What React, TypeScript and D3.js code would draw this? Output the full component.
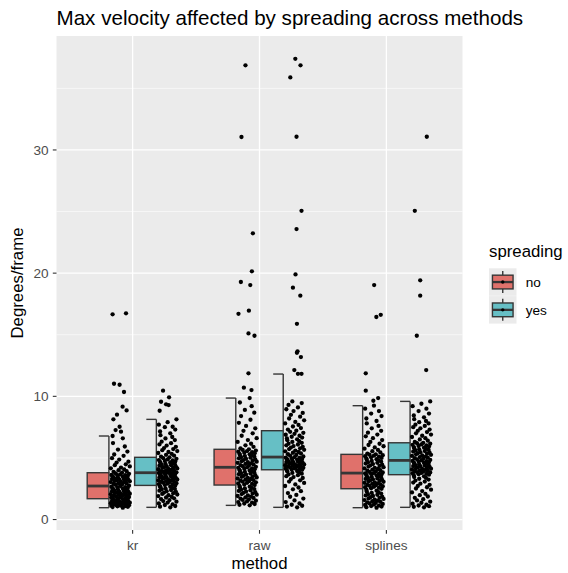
import React from "react";
import * as d3 from "d3";

const METHODS = ["kr", "raw", "splines"];
const SPREADING = ["no", "yes"];
const FILLS = ["#E0716B", "#66BFC5"];
const Y_TICKS = [0, 10, 20, 30];
const Y_MINOR = [5, 15, 25, 35];

// box statistics per group: kr-no, kr-yes, raw-no, raw-yes, splines-no, splines-yes
const LOWER = [0.96, 0.99, 1.15, 0.99, 0.96, 0.99];
const Q1 = [1.69, 2.77, 2.8, 4.04, 2.5, 3.64];
const MEDIAN = [2.72, 3.8, 4.24, 5.07, 3.77, 4.8];
const Q3 = [3.8, 5.05, 5.7, 7.21, 5.29, 6.23];
const UPPER = [6.78, 8.13, 9.86, 11.81, 9.24, 9.59];

// dense observations (read approximately)
const KR_NO = [0.96,1.01,1.03,1.07,1.09,1.12,1.13,1.16,1.19,1.21,1.24,1.26,1.28,1.31,1.33,1.34,1.37,1.4,1.41,1.43,1.46,1.47,1.5,1.53,1.55,1.56,1.58,1.61,1.63,1.64,1.67,1.69,
1.71,1.74,1.79,1.8,1.83,1.88,1.91,1.92,1.97,2.0,2.01,2.06,2.09,2.1,2.15,2.18,2.19,2.24,2.27,2.3,2.31,2.36,2.4,2.42,2.45,2.46,2.51,2.54,2.57,2.6,2.63,2.67,2.72,
2.75,2.81,2.83,2.89,2.93,2.95,3.01,3.04,3.05,3.1,3.13,3.14,3.19,3.22,3.25,3.28,3.29,3.34,3.37,3.4,3.43,3.44,3.49,3.52,3.55,3.58,3.61,3.62,3.67,3.71,3.74,3.8,
3.87,3.92,4.01,4.07,4.16,4.22,4.31,4.41,4.48,4.62,4.7,4.87,4.98,5.17,5.28,5.52,5.68,5.93,6.21,6.59,6.78];
const KR_YES = [0.99,1.04,1.1,1.18,1.23,1.3,1.38,1.45,1.5,1.58,1.66,1.72,1.79,1.85,1.9,1.97,2.03,2.08,2.14,2.19,2.25,2.3,2.34,2.39,2.44,2.48,2.53,2.57,2.62,2.66,2.71,2.77,
2.8,2.84,2.87,2.91,2.95,2.98,3.02,3.05,3.08,3.12,3.15,3.18,3.21,3.25,3.28,3.31,3.35,3.38,3.41,3.44,3.47,3.5,3.53,3.56,3.59,3.62,3.65,3.68,3.71,3.73,3.76,3.78,3.8,
3.83,3.86,3.9,3.93,3.97,4.0,4.04,4.08,4.11,4.15,4.19,4.22,4.26,4.3,4.33,4.37,4.41,4.45,4.48,4.52,4.56,4.6,4.63,4.67,4.71,4.75,4.79,4.83,4.88,4.93,4.98,5.05,
5.1,5.18,5.25,5.33,5.4,5.48,5.56,5.63,5.72,5.8,5.9,6.0,6.1,6.2,6.32,6.45,6.58,6.7,6.85,7.0,7.15,7.3,7.5,7.53,7.7,7.9,8.13];
const RAW_NO = [1.15,1.2,1.26,1.3,1.37,1.42,1.48,1.53,1.59,1.64,1.7,1.75,1.8,1.86,1.91,1.96,2.02,2.07,2.12,2.17,2.22,2.27,2.32,2.37,2.42,2.47,2.52,2.57,2.62,2.67,2.73,2.8,
2.84,2.89,2.93,2.98,3.02,3.07,3.11,3.16,3.2,3.25,3.29,3.33,3.38,3.42,3.47,3.51,3.55,3.6,3.64,3.68,3.73,3.77,3.82,3.86,3.9,3.95,3.99,4.03,4.08,4.12,4.16,4.2,4.24,
4.28,4.33,4.37,4.42,4.47,4.51,4.56,4.6,4.65,4.7,4.74,4.79,4.83,4.88,4.93,4.97,5.02,5.06,5.11,5.15,5.2,5.24,5.29,5.33,5.38,5.42,5.47,5.51,5.56,5.6,5.65,5.7,
5.78,5.9,6.02,6.15,6.3,6.45,6.6,6.8,7.0,7.2,7.4,7.6,7.85,8.1,8.4,8.67,8.9,9.2,9.5,9.86];
const RAW_YES = [0.99,1.05,1.12,1.2,1.3,1.42,1.55,1.7,1.85,2.0,2.15,2.3,2.45,2.6,2.72,2.85,2.97,3.08,3.18,3.28,3.37,3.45,3.52,3.6,3.66,3.72,3.78,3.84,3.89,3.94,3.99,4.04,
4.07,4.1,4.13,4.16,4.2,4.23,4.26,4.29,4.32,4.35,4.38,4.41,4.44,4.47,4.5,4.53,4.56,4.6,4.63,4.66,4.69,4.72,4.75,4.78,4.81,4.84,4.87,4.9,4.94,4.97,5.0,5.03,5.07,
5.12,5.18,5.24,5.3,5.36,5.42,5.48,5.54,5.6,5.66,5.72,5.78,5.84,5.9,5.96,6.02,6.09,6.16,6.23,6.3,6.37,6.44,6.51,6.58,6.65,6.72,6.8,6.88,6.96,7.04,7.12,7.21,
7.3,7.42,7.55,7.68,7.8,7.92,8.05,8.2,8.35,8.5,8.65,8.8,8.95,9.1,9.3,9.45,9.59];
const SPL_NO = [0.96,1.0,1.05,1.09,1.13,1.18,1.22,1.27,1.31,1.35,1.4,1.44,1.49,1.53,1.58,1.62,1.67,1.71,1.76,1.81,1.86,1.91,1.96,2.01,2.06,2.11,2.16,2.22,2.28,2.34,2.42,2.5,
2.54,2.58,2.62,2.66,2.7,2.74,2.78,2.82,2.86,2.9,2.94,2.98,3.02,3.06,3.1,3.14,3.18,3.22,3.26,3.3,3.34,3.38,3.42,3.46,3.5,3.54,3.58,3.62,3.66,3.7,3.73,3.75,3.77,
3.82,3.86,3.91,3.96,4.0,4.05,4.1,4.15,4.2,4.25,4.3,4.35,4.4,4.45,4.5,4.55,4.6,4.65,4.7,4.75,4.8,4.85,4.9,4.95,5.0,5.05,5.1,5.14,5.18,5.22,5.26,5.29,
5.35,5.45,5.55,5.65,5.75,5.85,5.95,6.05,6.15,6.3,6.45,6.6,6.75,6.9,7.05,7.2,7.4,7.6,7.8,8.0,8.2,8.4,8.6,8.8,9.0,9.24];
const SPL_YES = [0.99,1.03,1.08,1.14,1.2,1.28,1.36,1.45,1.55,1.65,1.76,1.87,1.98,2.09,2.2,2.31,2.42,2.52,2.62,2.72,2.82,2.91,3.0,3.08,3.16,3.24,3.31,3.38,3.45,3.51,3.58,3.64,
3.68,3.71,3.75,3.78,3.82,3.85,3.89,3.92,3.96,3.99,4.03,4.06,4.1,4.13,4.17,4.2,4.24,4.27,4.31,4.34,4.38,4.41,4.45,4.48,4.52,4.55,4.59,4.62,4.66,4.69,4.73,4.76,4.8,
4.84,4.89,4.93,4.98,5.02,5.07,5.11,5.16,5.2,5.25,5.29,5.34,5.38,5.43,5.47,5.52,5.56,5.61,5.65,5.7,5.74,5.79,5.83,5.88,5.92,5.97,6.01,6.06,6.1,6.15,6.19,6.23,
6.3,6.4,6.5,6.6,6.7,6.8,6.9,7.0,7.1,7.2,7.3,7.4,7.5,7.6,7.7,7.8,7.9,8.0,8.15,8.3,8.45,8.6,8.8,9.0,9.2,9.4,9.59];

// isolated observations: [value, horizontal jitter fraction]
const KR_NO_OUT = [[16.66,0.11],[16.74,0.78],[11.02,0.18],[10.94,0.46],[10.35,0.68],[9.16,0.61],[8.86,0.81],[8.51,0.33],[8.13,0.15],[7.53,0.46],[7.26,0.26],[7.13,0.53]];
const KR_YES_OUT = [[10.46,0.26],[9.92,0.56],[9.56,0.16],[9.35,0.41],[9.29,0.54],[8.83,0.09]];
const RAW_NO_OUT = [[36.87,0.41],[31.05,0.21],[23.23,0.78],[20.15,0.73],[19.28,0.18],[19.03,0.65],[16.95,0.58],[16.7,0.06],[15.11,0.56],[14.92,0.86],[11.87,0.56],[10.7,0.33],[10.51,0.71]];
const RAW_YES_OUT = [[37.4,0.53],[36.87,0.79],[35.89,0.28],[31.07,0.59],[25.06,0.84],[23.58,0.59],[19.9,0.54],[18.82,0.41],[18.17,0.78],[15.89,0.61],[13.65,0.64],[13.54,0.61],[13.19,0.81],[12.13,0.48],[11.83,0.66],[11.83,0.84]];
const SPL_NO_OUT = [[19.03,0.5],[16.62,0.83],[16.44,0.61],[11.87,0.08],[10.46,0.08],[9.86,0.7],[9.64,0.46]];
const SPL_YES_OUT = [[31.07,0.76],[25.06,0.16],[19.42,0.43],[18.17,0.43],[14.92,0.26],[12.13,0.73]];

const JITTER = [0.62,0.11,0.87,0.35,0.74,0.05,0.49,0.93,0.27,0.58,0.16,0.81,0.41,0.69,0.02,0.53,0.97,0.22,0.77,0.31,0.9,0.44,0.08,0.66,0.19,0.85,0.38,0.72,0.13];

const DENSE = [KR_NO, KR_YES, RAW_NO, RAW_YES, SPL_NO, SPL_YES];
const OUTS = [KR_NO_OUT, KR_YES_OUT, RAW_NO_OUT, RAW_YES_OUT, SPL_NO_OUT, SPL_YES_OUT];

const FONT = "'Liberation Sans', Arial, Helvetica, sans-serif";

export default function App() {
  const W = 568, H = 573;
  const x = d3.scaleLinear().domain([0.4, 3.6]).range([56.5, 462.5]);
  const y = d3.scaleLinear().domain([-0.85, 39.25]).range([530, 36]);
  const pL = x(0.4), pR = x(3.6), pT = y(39.25), pB = y(-0.85);
  const unit = x(1) - x(0);
  const dodge = 0.187 * unit;
  const boxW = 0.171 * unit;
  const capW = 0.079 * unit;

  const groups = DENSE.map((dense, g) => {
    const m = Math.floor(g / 2), s = g % 2;
    const cx = x(m + 1) + (s === 0 ? -dodge : dodge);
    const pts = [
      ...dense.map((v, i) => [v, JITTER[i % JITTER.length]]),
      ...OUTS[g],
    ];
    return { g, m, s, cx, pts };
  });

  const px = (cx: number, f: number) => cx + 1.5 + f * 20;
  const stroke = "#363636";

  return (
    <svg width={W} height={H} style={{ position: "absolute", left: 0, top: 0, fontFamily: FONT }}>
      <rect x={0} y={0} width={W} height={H} fill="#ffffff" />
      <text x={pL} y={24.5} fontSize={20.6} fill="#000">Max velocity affected by spreading across methods</text>
      <rect x={pL} y={pT} width={pR - pL} height={pB - pT} fill="#EBEBEB" />
      {Y_MINOR.map((t) => (
        <line key={"mn" + t} x1={pL} x2={pR} y1={y(t)} y2={y(t)} stroke="#fff" strokeWidth={0.6} />
      ))}
      {Y_TICKS.map((t) => (
        <line key={"mj" + t} x1={pL} x2={pR} y1={y(t)} y2={y(t)} stroke="#fff" strokeWidth={1.3} />
      ))}
      {METHODS.map((m, i) => (
        <line key={"gx" + m} x1={x(i + 1)} x2={x(i + 1)} y1={pT} y2={pB} stroke="#fff" strokeWidth={1.3} />
      ))}
      {groups.map(({ g, s, cx }) => (
        <g key={"box" + g}>
          <line x1={cx} x2={cx} y1={y(UPPER[g])} y2={y(Q3[g])} stroke={stroke} strokeWidth={1.4} />
          <line x1={cx} x2={cx} y1={y(Q1[g])} y2={y(LOWER[g])} stroke={stroke} strokeWidth={1.4} />
          <line x1={cx - capW} x2={cx} y1={y(UPPER[g])} y2={y(UPPER[g])} stroke={stroke} strokeWidth={1.4} />
          <line x1={cx - capW} x2={cx} y1={y(LOWER[g])} y2={y(LOWER[g])} stroke={stroke} strokeWidth={1.4} />
          <rect x={cx - boxW} y={y(Q3[g])} width={boxW} height={y(Q1[g]) - y(Q3[g])} fill={FILLS[s]} stroke={stroke} strokeWidth={1.4} />
          <line x1={cx - boxW} x2={cx} y1={y(MEDIAN[g])} y2={y(MEDIAN[g])} stroke={stroke} strokeWidth={2.8} />
        </g>
      ))}
      {groups.map(({ g, cx, pts }) => (
        <g key={"pts" + g}>
          {pts.map((p, i) => (
            <circle key={i} cx={px(cx, p[1])} cy={y(p[0])} r={2.15} fill="#000" />
          ))}
        </g>
      ))}
      {Y_TICKS.map((t) => (
        <g key={"yt" + t}>
          <line x1={pL - 3.7} x2={pL} y1={y(t)} y2={y(t)} stroke="#333" strokeWidth={1.1} />
          <text x={pL - 8} y={y(t)} dy="0.36em" textAnchor="end" fontSize={13.6} fill="#4D4D4D">{t}</text>
        </g>
      ))}
      {METHODS.map((m, i) => (
        <g key={"xt" + m}>
          <line x1={x(i + 1)} x2={x(i + 1)} y1={pB} y2={pB + 3.7} stroke="#333" strokeWidth={1.1} />
          <text x={x(i + 1)} y={549.5} textAnchor="middle" fontSize={13.6} fill="#4D4D4D">{m}</text>
        </g>
      ))}
      <text x={(pL + pR) / 2} y={569} textAnchor="middle" fontSize={16.8} fill="#000">method</text>
      <text transform={`translate(23,${(pT + pB) / 2}) rotate(-90)`} textAnchor="middle" fontSize={16.8} fill="#000">Degrees/frame</text>
      <text x={489} y={257} fontSize={16.8} fill="#000">spreading</text>
      {SPREADING.map((lab, s) => {
        const ky = 268.3 + s * 27.8, kx = 489, k = 27.5;
        return (
          <g key={"lg" + lab}>
            <rect x={kx} y={ky} width={k} height={k} fill="#EBEBEB" />
            <line x1={kx + k / 2} x2={kx + k / 2} y1={ky + k * 0.1} y2={ky + k * 0.25} stroke={stroke} strokeWidth={1.4} />
            <line x1={kx + k / 2} x2={kx + k / 2} y1={ky + k * 0.75} y2={ky + k * 0.9} stroke={stroke} strokeWidth={1.4} />
            <rect x={kx + k * 0.125} y={ky + k * 0.25} width={k * 0.75} height={k * 0.5} fill={FILLS[s]} stroke={stroke} strokeWidth={1.4} />
            <line x1={kx + k * 0.125} x2={kx + k * 0.875} y1={ky + k / 2} y2={ky + k / 2} stroke={stroke} strokeWidth={2.3} />
            <circle cx={kx + k / 2} cy={ky + k / 2} r={1.7} fill="#000" />
            <text x={525.7} y={ky + k / 2} dy="0.36em" fontSize={13.6} fill="#000">{lab}</text>
          </g>
        );
      })}
    </svg>
  );
}
